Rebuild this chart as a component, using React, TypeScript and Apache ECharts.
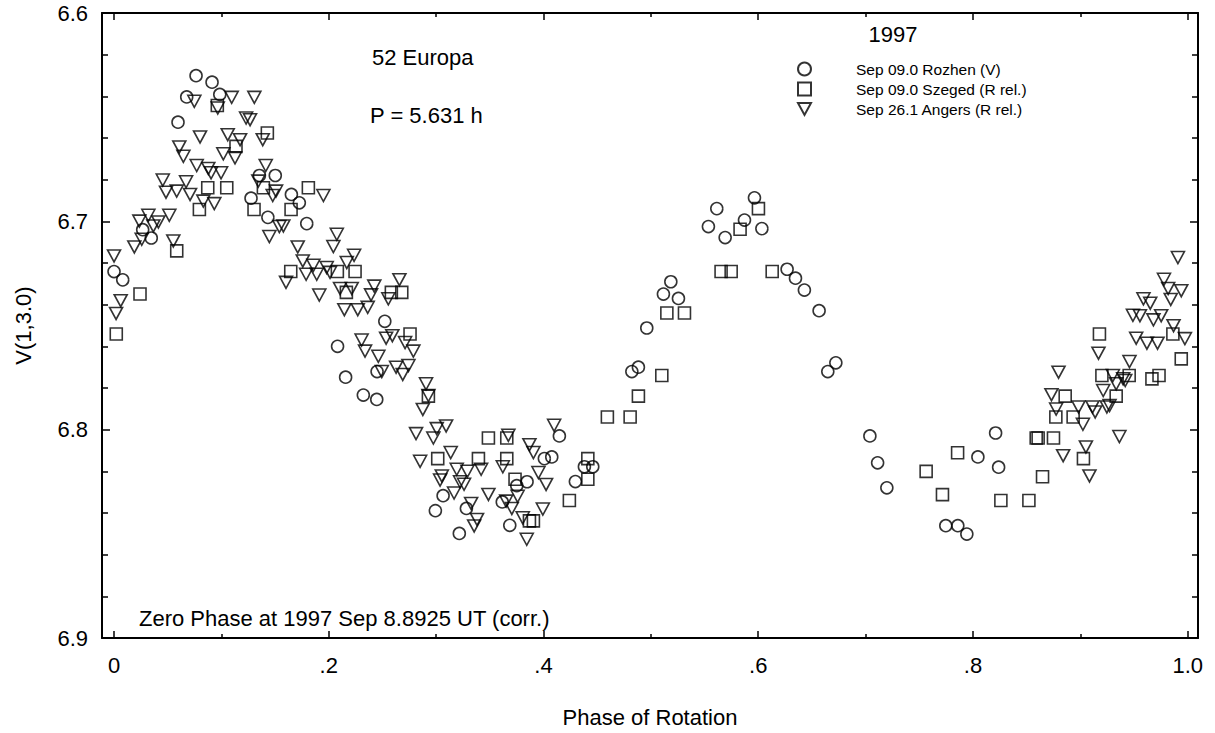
import React, { useEffect, useRef } from "react";
import * as echarts from "echarts";

const FONT = '"Liberation Sans", Arial, Helvetica, sans-serif';

const seriesNames = [
  "Sep 09.0 Rozhen (V)",
  "Sep 09.0 Szeged (R rel.)",
  "Sep 26.1 Angers (R rel.)",
];

const xMajorTicks = [0, 0.2, 0.4, 0.6, 0.8, 1.0];
const xMinorTicks = [0.1, 0.3, 0.5, 0.7, 0.9];
const xLabels = ["0", ".2", ".4", ".6", ".8", "1.0"];
const yLabels = ["6.6", "6.7", "6.8", "6.9"];

// Rozhen (V) - circles: [phase, V(1,3.0)]
const rozhen = [
  [0.000, 6.7241], [0.0081, 6.7281], [0.0267, 6.704], [0.0347, 6.708], [0.0596, 6.6524],
  [0.0677, 6.6403], [0.0764, 6.6301], [0.0913, 6.6332], [0.0985, 6.6391], [0.1276, 6.6889],
  [0.1354, 6.678], [0.1502, 6.678], [0.1433, 6.6981], [0.1652, 6.6871], [0.1726, 6.6911],
  [0.1795, 6.7011], [0.2082, 6.76], [0.2522, 6.748], [0.2157, 6.7748], [0.245, 6.7721],
  [0.2322, 6.7834], [0.2447, 6.7855], [0.2993, 6.8389], [0.3065, 6.8317], [0.3216, 6.8498],
  [0.3282, 6.8378], [0.3616, 6.8347], [0.3686, 6.8459], [0.3751, 6.8269], [0.3847, 6.825],
  [0.4008, 6.8139], [0.4077, 6.8131], [0.4148, 6.803], [0.4297, 6.8249], [0.4381, 6.8178],
  [0.4459, 6.8178], [0.4823, 6.7721], [0.4884, 6.77], [0.4962, 6.7512], [0.5117, 6.7349],
  [0.5186, 6.729], [0.5257, 6.737], [0.5536, 6.7025], [0.5614, 6.6939], [0.5692, 6.7078],
  [0.5872, 6.6994], [0.5965, 6.6887], [0.6034, 6.7035], [0.6269, 6.723], [0.6347, 6.7273],
  [0.643, 6.733], [0.6567, 6.7429], [0.6648, 6.7721], [0.6723, 6.7679], [0.704, 6.803],
  [0.7112, 6.8159], [0.7198, 6.8279], [0.7747, 6.8461], [0.7859, 6.8461], [0.7943, 6.8501],
  [0.8046, 6.8131], [0.8211, 6.8016], [0.8239, 6.818],
];

// Szeged (R rel.) - squares
const szeged = [
  [0.0021, 6.7541], [0.0242, 6.7349], [0.0584, 6.7142], [0.0795, 6.6943], [0.0873, 6.6839],
  [0.0962, 6.6444], [0.105, 6.6839], [0.1136, 6.664], [0.1304, 6.6943], [0.1391, 6.6839],
  [0.1428, 6.6576], [0.1649, 6.6943], [0.181, 6.6839], [0.1646, 6.7241], [0.208, 6.7241],
  [0.2245, 6.7241], [0.2164, 6.7341], [0.2583, 6.7341], [0.268, 6.7341], [0.2757, 6.7541],
  [0.2928, 6.7839], [0.3015, 6.8139], [0.3394, 6.8139], [0.3487, 6.804], [0.3658, 6.804],
  [0.3658, 6.8139], [0.3735, 6.8238], [0.3869, 6.8438], [0.3906, 6.8438], [0.4241, 6.834],
  [0.4413, 6.8139], [0.4413, 6.8238], [0.4595, 6.7939], [0.4807, 6.7939], [0.4884, 6.7839],
  [0.5102, 6.774], [0.5149, 6.744], [0.5313, 6.744], [0.5654, 6.7241], [0.5748, 6.7241],
  [0.5831, 6.7038], [0.6002, 6.6939], [0.613, 6.7241], [0.7564, 6.82], [0.7716, 6.8312],
  [0.7857, 6.8111], [0.826, 6.834], [0.8521, 6.834], [0.8589, 6.804], [0.8607, 6.804],
  [0.8648, 6.8226], [0.875, 6.804], [0.8772, 6.7939], [0.8859, 6.7839], [0.8933, 6.7939],
  [0.9029, 6.8139], [0.9178, 6.7541], [0.9201, 6.774], [0.9334, 6.7839], [0.9455, 6.774],
  [0.9667, 6.7756], [0.9733, 6.774], [0.9862, 6.7541], [0.994, 6.766],
];

// Angers (R rel.) - downward triangles
const angers = [
  [0.000, 6.7166], [0.0019, 6.7442], [0.0062, 6.7381], [0.0189, 6.7123], [0.0236, 6.6999],
  [0.0258, 6.7086], [0.032, 6.6971], [0.0366, 6.7022], [0.0413, 6.7003], [0.0454, 6.6802],
  [0.0484, 6.686], [0.0515, 6.6971], [0.0552, 6.7094], [0.0584, 6.6855], [0.0608, 6.6643],
  [0.0646, 6.6688], [0.0671, 6.681], [0.0708, 6.6871], [0.0748, 6.6424], [0.077, 6.6732],
  [0.0801, 6.6595], [0.0832, 6.6903], [0.0878, 6.6746], [0.0904, 6.6767], [0.0934, 6.6915],
  [0.0966, 6.6456], [0.0997, 6.6767], [0.1018, 6.6676], [0.1059, 6.6584], [0.1096, 6.6405],
  [0.1127, 6.6695], [0.1174, 6.6608], [0.123, 6.6504], [0.1267, 6.6512], [0.1307, 6.6405],
  [0.1344, 6.6807], [0.1385, 6.6608], [0.1413, 6.6732], [0.1447, 6.7073], [0.1478, 6.6876],
  [0.1509, 6.6855], [0.154, 6.7025], [0.1577, 6.7022], [0.1602, 6.7293], [0.1711, 6.7123],
  [0.1758, 6.719], [0.1789, 6.7254], [0.1857, 6.7211], [0.1888, 6.7254], [0.1912, 6.7354],
  [0.195, 6.6876], [0.1981, 6.7222], [0.2012, 6.7245], [0.2043, 6.7121], [0.2075, 6.7062],
  [0.2105, 6.7322], [0.2145, 6.7424], [0.2168, 6.7198], [0.2214, 6.7322], [0.2236, 6.7163],
  [0.227, 6.7424], [0.2306, 6.757], [0.2338, 6.7623], [0.2363, 6.7413], [0.2394, 6.7353],
  [0.2424, 6.7311], [0.2462, 6.7648], [0.2494, 6.7721], [0.2534, 6.7561], [0.2555, 6.7372],
  [0.2592, 6.7549], [0.2627, 6.77], [0.2658, 6.728], [0.2689, 6.7735], [0.2711, 6.7582],
  [0.2742, 6.7692], [0.2788, 6.7623], [0.2876, 6.7903], [0.2906, 6.778], [0.2928, 6.7836],
  [0.2813, 6.8019], [0.2851, 6.8152], [0.2974, 6.804], [0.3006, 6.7995], [0.3093, 6.7982],
  [0.3037, 6.8242], [0.3053, 6.8222], [0.3136, 6.811], [0.3167, 6.8304], [0.3192, 6.819],
  [0.3223, 6.825], [0.326, 6.8262], [0.3291, 6.82], [0.3326, 6.8354], [0.3354, 6.8462],
  [0.3381, 6.8431], [0.3419, 6.819], [0.3487, 6.8311], [0.3621, 6.8178], [0.3652, 6.8343],
  [0.3673, 6.8027], [0.3705, 6.8378], [0.3759, 6.832], [0.3807, 6.8423], [0.3844, 6.8526],
  [0.3869, 6.8072], [0.3906, 6.811], [0.3953, 6.8206], [0.3994, 6.8381], [0.4024, 6.8263],
  [0.4099, 6.7979],
  [0.8731, 6.7832], [0.8775, 6.7901], [0.8797, 6.7724], [0.884, 6.8125], [0.8983, 6.7891],
  [0.9024, 6.7974], [0.9052, 6.8083], [0.9085, 6.8222], [0.9113, 6.7891], [0.9138, 6.7915],
  [0.9169, 6.7633], [0.9213, 6.7812], [0.9247, 6.7891], [0.9272, 6.7884], [0.9303, 6.774],
  [0.9334, 6.778], [0.9364, 6.8033], [0.9399, 6.7756], [0.9418, 6.7764], [0.9458, 6.7673],
  [0.949, 6.7451], [0.952, 6.7561], [0.9555, 6.7453], [0.9588, 6.7372], [0.962, 6.7585],
  [0.9651, 6.7393], [0.9681, 6.7473], [0.9719, 6.7585], [0.9753, 6.7453], [0.9779, 6.7278],
  [0.9818, 6.7322], [0.9842, 6.7375], [0.9868, 6.7501], [0.9909, 6.7174], [0.994, 6.7333],
  [0.9974, 6.7563],
];

const X_MIN = -0.0112;
const X_MAX = 1.0096;

export default function App() {
  const ref = useRef<HTMLDivElement>(null);

  useEffect(() => {
    if (!ref.current) return;
    const chart = echarts.init(ref.current, null, { renderer: "svg" });

    const black = "#000";
    const baseX = {
      type: "value",
      min: X_MIN,
      max: X_MAX,
      splitLine: { show: false },
      axisLine: { onZero: false, show: false, lineStyle: { color: black, width: 2 } },
    };
    const baseY = {
      type: "value",
      min: 6.6,
      max: 6.9,
      interval: 0.1,
      inverse: true,
      splitLine: { show: false },
      minorSplitLine: { show: false },
    };

    const markerStyle = {
      color: "rgba(255,255,255,0)",
      borderColor: black,
      borderWidth: 1.6,
    };

    const option: any = {
      animation: false,
      backgroundColor: "#fff",
      textStyle: { fontFamily: FONT, color: black },
      grid: { left: 102, right: 17, top: 13, bottom: 93, containLabel: false },
      xAxis: [
        {
          ...baseX,
          position: "bottom",
          axisLine: { onZero: false, show: true, lineStyle: { color: black, width: 2 } },
          axisTick: {
            show: true,
            inside: true,
            length: 7,
            customValues: xMajorTicks,
            lineStyle: { color: black, width: 1.5 },
          },
          axisLabel: {
            show: true,
            customValues: xMajorTicks,
            formatter: (v: number) => xLabels[xMajorTicks.findIndex((t) => Math.abs(t - v) < 1e-6)] ?? "",
            color: black,
            fontSize: 22,
            fontFamily: FONT,
            margin: 16,
          },
          name: "Phase of Rotation",
          nameLocation: "middle",
          nameGap: 68,
          nameTextStyle: { fontSize: 22, color: black, fontFamily: FONT },
        },
        {
          ...baseX,
          position: "bottom",
          axisTick: {
            show: true,
            inside: true,
            length: 4,
            customValues: xMinorTicks,
            lineStyle: { color: black, width: 1.5 },
          },
          axisLabel: { show: false, customValues: xMinorTicks },
        },
        {
          ...baseX,
          position: "top",
          axisLine: { onZero: false, show: true, lineStyle: { color: black, width: 2 } },
          axisTick: {
            show: true,
            inside: true,
            length: 7,
            customValues: xMajorTicks,
            lineStyle: { color: black, width: 1.5 },
          },
          axisLabel: { show: false, customValues: xMajorTicks },
        },
        {
          ...baseX,
          position: "top",
          axisTick: {
            show: true,
            inside: true,
            length: 4,
            customValues: xMinorTicks,
            lineStyle: { color: black, width: 1.5 },
          },
          axisLabel: { show: false, customValues: xMinorTicks },
        },
      ],
      yAxis: [
        {
          ...baseY,
          position: "left",
          axisLine: { onZero: false, show: true, lineStyle: { color: black, width: 2 } },
          axisTick: { show: true, inside: true, length: 8, lineStyle: { color: black, width: 1.5 } },
          minorTick: { show: true, splitNumber: 5, length: 6, lineStyle: { color: black, width: 1.5 } },
          axisLabel: {
            show: true,
            formatter: (v: number) => yLabels[Math.round((v - 6.6) * 10)] ?? "",
            color: black,
            fontSize: 22,
            fontFamily: FONT,
            margin: 14,
            padding: [6, 0, 0, 0],
          },
          name: "V(1,3.0)",
          nameLocation: "middle",
          nameGap: 68,
          nameTextStyle: { fontSize: 22, color: black, fontFamily: FONT },
        },
        {
          ...baseY,
          position: "right",
          axisLine: { onZero: false, show: true, lineStyle: { color: black, width: 2 } },
          axisTick: { show: true, inside: true, length: 8, lineStyle: { color: black, width: 1.5 } },
          minorTick: { show: true, splitNumber: 5, length: 6, lineStyle: { color: black, width: 1.5 } },
          axisLabel: { show: false },
        },
      ],
      legend: {
        orient: "vertical",
        left: 797,
        top: 61,
        padding: 0,
        itemWidth: 13,
        itemHeight: 13,
        itemGap: 4,
        selectedMode: false,
        data: [
          { name: seriesNames[0] },
          { name: seriesNames[1] },
          { name: seriesNames[2], icon: "path://M0,0 L12,0 L6,11 Z" },
        ],
        textStyle: {
          fontSize: 15.5,
          fontFamily: FONT,
          color: black,
          lineHeight: 14,
          padding: [0, 0, 0, 40],
        },
      },
      graphic: [
        {
          type: "text",
          x: 372,
          y: 57,
          style: { text: "52 Europa", font: `22px ${FONT}`, fill: black, verticalAlign: "middle", align: "left" },
        },
        {
          type: "text",
          x: 370,
          y: 115,
          style: { text: "P = 5.631 h", font: `22px ${FONT}`, fill: black, verticalAlign: "middle", align: "left" },
        },
        {
          type: "text",
          x: 893,
          y: 34,
          style: { text: "1997", font: `22px ${FONT}`, fill: black, verticalAlign: "middle", align: "center" },
        },
        {
          type: "text",
          x: 139,
          y: 618,
          style: {
            text: "Zero Phase at 1997 Sep 8.8925 UT (corr.)",
            font: `22px ${FONT}`,
            fill: black,
            verticalAlign: "middle",
            align: "left",
          },
        },
      ],
      series: [
        {
          type: "scatter",
          name: seriesNames[0],
          data: rozhen,
          symbol: "circle",
          symbolSize: 12,
          itemStyle: markerStyle,
          silent: true,
          xAxisIndex: 0,
          yAxisIndex: 0,
        },
        {
          type: "scatter",
          name: seriesNames[1],
          data: szeged,
          symbol: "rect",
          symbolSize: 12,
          itemStyle: markerStyle,
          silent: true,
          xAxisIndex: 0,
          yAxisIndex: 0,
        },
        {
          type: "scatter",
          name: seriesNames[2],
          data: angers,
          symbol: "triangle",
          symbolRotate: 180,
          symbolSize: [13, 12],
          itemStyle: markerStyle,
          silent: true,
          xAxisIndex: 0,
          yAxisIndex: 0,
        },
      ],
    };

    chart.setOption(option);
    return () => chart.dispose();
  }, []);

  return (
    <div
      ref={ref}
      style={{ position: "fixed", left: 0, top: 0, width: 1215, height: 733, background: "#fff" }}
    />
  );
}
